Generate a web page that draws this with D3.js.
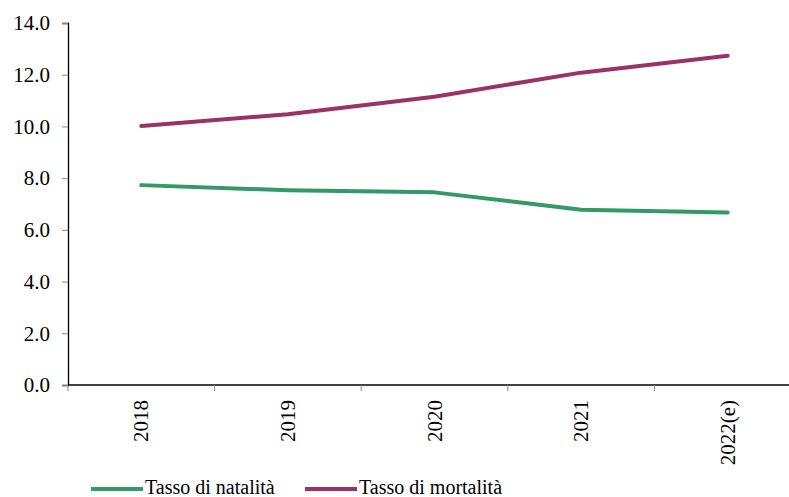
<!DOCTYPE html>
<html>
<head>
<meta charset="utf-8">
<script src="https://cdn.jsdelivr.net/npm/d3@7"></script>
</head>
<body style="margin:0;background:#fff">
<svg id="chart" width="789" height="497" style="display:block"></svg>
<script>
// Anni e tassi (per 1.000 abitanti)
const years = ["2018", "2019", "2020", "2021", "2022(e)"];
const natalita = [7.73, 7.53, 7.45, 6.78, 6.67];
const mortalita = [10.02, 10.47, 11.15, 12.08, 12.73];
const yTicks = [0, 2, 4, 6, 8, 10, 12, 14];
const seriesNames = ["Tasso di natalità", "Tasso di mortalità"];
const seriesColors = ["#339966", "#993366"];

const FONT = "'Liberation Serif'";
const svg = d3.select("#chart");
const plotLeft = 68, plotRight = 801, plotTop = 23, plotBottom = 385;

const x = d3.scaleBand().domain(years).range([plotLeft, plotRight]);
const y = d3.scaleLinear().domain([0, 14]).range([plotBottom, plotTop]);

// Asse Y
const yAxis = svg.append("g")
  .attr("transform", `translate(${plotLeft},0)`)
  .call(d3.axisLeft(y).tickValues(yTicks).tickFormat(d3.format(".1f")).tickSize(6).tickPadding(12));
yAxis.select(".domain").attr("stroke", "#000").attr("stroke-width", 1.3);
yAxis.selectAll(".tick line").attr("stroke", "#888");
yAxis.selectAll(".tick text")
  .style("font-family", FONT).style("font-size", "21px").attr("fill", "#000");

// Asse X (linea di base e tacche ai confini delle categorie)
svg.append("line")
  .attr("x1", plotLeft).attr("x2", plotRight).attr("y1", plotBottom).attr("y2", plotBottom)
  .attr("stroke", "#000").attr("stroke-width", 1.3);
const bounds = years.map(d => x(d)).concat([x(years[years.length - 1]) + x.bandwidth()]);
svg.append("g").selectAll("line").data(bounds).join("line")
  .attr("x1", d => d).attr("x2", d => d)
  .attr("y1", plotBottom).attr("y2", plotBottom + 6)
  .attr("stroke", "#888");

// Etichette anni ruotate
svg.append("g").selectAll("text").data(years).join("text")
  .attr("transform", d => `translate(${x(d) + x.bandwidth() / 2 + 7},${plotBottom + 15}) rotate(-90)`)
  .attr("text-anchor", "end")
  .style("font-family", FONT).style("font-size", "21px")
  .attr("fill", "#000")
  .text(d => d);

// Linee delle serie
const line = d3.line()
  .x((d, i) => x(years[i]) + x.bandwidth() / 2)
  .y(d => y(d));

[natalita, mortalita].forEach((vals, i) => {
  svg.append("path")
    .datum(vals)
    .attr("fill", "none")
    .attr("stroke", seriesColors[i])
    .attr("stroke-width", 4)
    .attr("stroke-linecap", "round")
    .attr("stroke-linejoin", "round")
    .attr("d", line);
});

// Legenda
const legendX = [91, 305];
seriesNames.forEach((name, i) => {
  const g = svg.append("g").attr("transform", `translate(${legendX[i]},489)`);
  g.append("line").attr("x1", 0).attr("x2", 52).attr("y1", 0).attr("y2", 0)
    .attr("stroke", seriesColors[i]).attr("stroke-width", 4);
  g.append("text").attr("x", 54).attr("y", 5)
    .style("font-family", FONT).style("font-size", "20px")
    .attr("fill", "#000").text(name);
});
</script>
</body>
</html>
